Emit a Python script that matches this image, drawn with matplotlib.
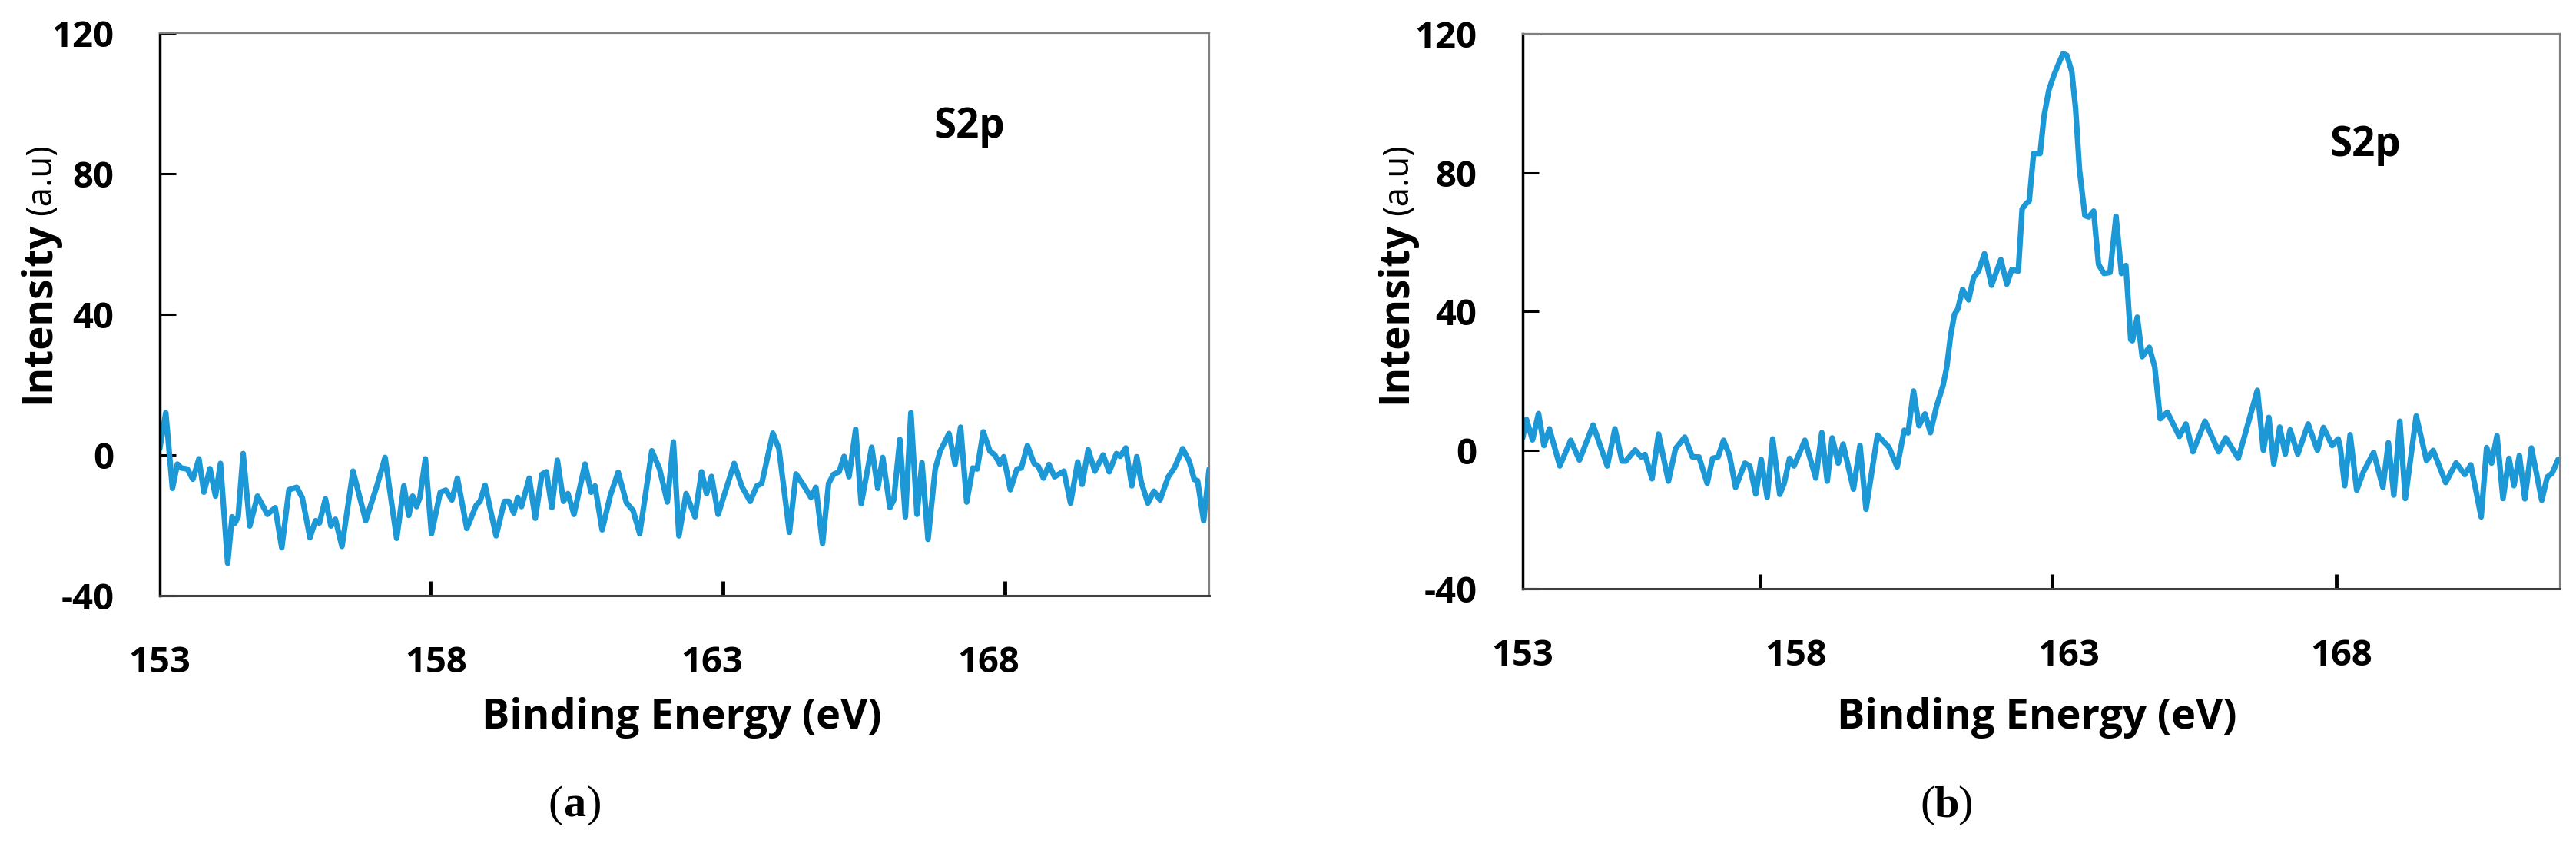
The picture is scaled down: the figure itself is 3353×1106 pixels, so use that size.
import matplotlib
matplotlib.use("Agg")
import matplotlib.pyplot as plt
from matplotlib.ticker import FixedLocator

plt.rcParams['axes.unicode_minus'] = False
plt.rcParams['font.family'] = ['Open Sans', 'DejaVu Sans']

# --- panel (a): S2p, no sulfur peak ---
energy_a = [153.00, 153.11, 153.23, 153.32, 153.39, 153.50, 153.60, 153.71, 153.80, 153.91,
            154.01, 154.10, 154.23, 154.31, 154.36, 154.42, 154.51, 154.63, 154.77, 154.95,
            155.09, 155.21, 155.34, 155.48, 155.58, 155.72, 155.82, 155.89, 156.00, 156.10,
            156.18, 156.30, 156.50, 156.73, 156.94, 157.08, 157.29, 157.42, 157.51, 157.58,
            157.65, 157.71, 157.81, 157.92, 158.08, 158.18, 158.29, 158.39, 158.56, 158.73,
            158.80, 158.89, 159.09, 159.24, 159.32, 159.41, 159.48, 159.55, 159.69, 159.80,
            159.92, 160.00, 160.10, 160.20, 160.31, 160.39, 160.50, 160.70, 160.81, 160.88,
            161.01, 161.16, 161.30, 161.45, 161.57, 161.69, 161.91, 162.05, 162.19, 162.30,
            162.40, 162.53, 162.69, 162.81, 162.90, 162.99, 163.11, 163.40, 163.54, 163.69,
            163.81, 163.90, 164.10, 164.21, 164.40, 164.52, 164.68, 164.79, 164.88, 165.00,
            165.11, 165.20, 165.30, 165.39, 165.48, 165.60, 165.70, 165.89, 166.00, 166.09,
            166.22, 166.29, 166.40, 166.50, 166.60, 166.71, 166.80, 166.91, 167.04, 167.13,
            167.29, 167.40, 167.50, 167.61, 167.72, 167.80, 167.91, 168.03, 168.12, 168.21,
            168.28, 168.40, 168.52, 168.60, 168.71, 168.83, 168.91, 169.00, 169.10, 169.20,
            169.37, 169.49, 169.62, 169.70, 169.81, 169.93, 170.08, 170.19, 170.32, 170.39,
            170.49, 170.60, 170.69, 170.77, 170.89, 171.00, 171.11, 171.26, 171.37, 171.52,
            171.64, 171.73, 171.79, 171.90, 172.00]
counts_a = [1.8, 12.0, -9.5, -2.6, -3.7, -4.0, -6.9, -1.1, -10.6, -3.9,
            -11.7, -2.4, -30.8, -17.6, -19.4, -17.6, 0.4, -20.2, -11.7, -16.9,
            -15.0, -26.4, -9.9, -9.2, -12.1, -23.5, -18.7, -19.4, -12.5, -20.2,
            -18.3, -26.0, -4.6, -18.7, -8.4, -0.7, -23.7, -8.8, -17.2, -11.7,
            -14.7, -12.1, -1.1, -22.4, -10.6, -10.0, -12.8, -6.6, -20.9, -14.3,
            -13.2, -8.6, -23.0, -13.2, -13.2, -16.5, -12.1, -14.7, -6.6, -18.0,
            -5.5, -4.8, -15.0, -1.5, -13.2, -11.0, -16.9, -2.6, -10.6, -8.8,
            -21.3, -11.4, -4.9, -13.6, -15.8, -22.4, 1.2, -4.0, -13.4, 3.7,
            -23.0, -11.0, -17.6, -4.8, -11.0, -6.1, -16.9, -2.4, -9.0, -13.2,
            -8.8, -8.1, 6.2, 1.8, -22.0, -5.4, -9.2, -12.1, -9.2, -25.2,
            -8.1, -5.5, -4.8, -0.4, -6.2, 7.3, -13.9, 2.2, -9.5, -0.7,
            -15.0, -12.8, 4.4, -17.6, 12.0, -16.9, -2.2, -24.0, -4.0, 1.1,
            6.1, -2.7, 7.9, -13.4, -3.7, -4.0, 6.6, 1.1, 0.0, -2.6,
            -0.5, -9.9, -4.0, -3.7, 2.7, -2.4, -3.3, -6.6, -2.7, -6.2,
            -4.6, -13.7, -2.0, -8.4, 1.5, -4.6, 0.0, -4.8, 0.4, -0.4,
            2.0, -8.8, -0.5, -7.7, -13.7, -10.3, -12.8, -6.2, -3.7, 1.8,
            -1.8, -7.0, -7.3, -18.7, -4.0]

# --- panel (b): S2p with peak near 163 eV ---
energy_b = [153.00, 153.07, 153.18, 153.29, 153.39, 153.49, 153.68, 153.88, 154.04, 154.29,
            154.55, 154.69, 154.82, 154.89, 155.06, 155.17, 155.24, 155.37, 155.49, 155.67,
            155.80, 155.97, 156.11, 156.23, 156.38, 156.48, 156.58, 156.68, 156.79, 156.90,
            157.07, 157.16, 157.27, 157.37, 157.48, 157.58, 157.71, 157.79, 157.89, 157.97,
            158.17, 158.37, 158.48, 158.58, 158.67, 158.78, 158.87, 159.06, 159.18, 159.29,
            159.50, 159.71, 159.86, 159.99, 160.06, 160.16, 160.26, 160.37, 160.47, 160.58,
            160.70, 160.77, 160.84, 160.91, 160.97, 161.06, 161.17, 161.26, 161.35, 161.46,
            161.59, 161.76, 161.87, 161.96, 162.08, 162.15, 162.22, 162.28, 162.36, 162.48,
            162.55, 162.64, 162.73, 162.83, 162.90, 162.97, 163.06, 163.13, 163.20, 163.30,
            163.37, 163.46, 163.55, 163.65, 163.76, 163.87, 163.97, 164.05, 164.14, 164.17,
            164.26, 164.35, 164.48, 164.58, 164.68, 164.81, 165.03, 165.15, 165.28, 165.50,
            165.75, 165.88, 166.11, 166.46, 166.57, 166.67, 166.76, 166.87, 166.97, 167.06,
            167.20, 167.39, 167.56, 167.67, 167.83, 167.94, 167.98, 168.06, 168.16, 168.28,
            168.40, 168.59, 168.76, 168.86, 168.96, 169.07, 169.17, 169.37, 169.56, 169.68,
            169.91, 170.10, 170.26, 170.37, 170.56, 170.66, 170.75, 170.85, 170.96, 171.07,
            171.16, 171.26, 171.36, 171.48, 171.67, 171.77, 171.86, 171.97]
counts_b = [3.5, 8.8, 2.9, 10.5, 1.3, 6.1, -4.6, 2.8, -2.9, 7.2,
            -4.6, 6.1, -3.2, -3.2, 0.0, -2.0, -1.3, -8.3, 4.6, -9.0,
            0.4, 3.7, -2.0, -2.0, -9.6, -2.4, -2.0, 2.8, -1.6, -10.8,
            -3.8, -4.6, -12.7, -2.7, -13.6, 3.2, -12.8, -9.7, -2.4, -4.6,
            2.8, -8.1, 5.0, -9.0, 3.5, -3.8, 1.7, -11.3, 1.3, -17.1,
            4.3, 0.8, -4.9, 5.7, 4.9, 17.0, 7.0, 10.4, 5.0, 12.5,
            18.5, 24.0, 33.0, 39.1, 40.6, 46.3, 43.3, 49.7, 51.6, 56.6,
            47.5, 54.9, 47.8, 52.0, 51.6, 69.5, 71.0, 71.8, 85.5, 85.5,
            96.2, 103.8, 108.0, 111.8, 114.3, 113.8, 109.1, 98.4, 80.9, 67.6,
            67.2, 68.9, 53.5, 50.9, 51.2, 67.4, 50.9, 53.2, 31.8, 31.5,
            38.3, 26.9, 29.6, 23.9, 9.0, 10.9, 3.9, 7.5, -0.5, 8.3,
            -0.5, 3.5, -2.4, 17.2, -0.1, 9.4, -4.0, 6.6, -1.2, 5.8,
            -1.2, 7.5, -0.1, 6.5, 1.3, 3.2, 0.6, -10.3, 4.4, -11.6,
            -6.4, -0.7, -10.8, 2.1, -13.0, 8.3, -14.0, 9.8, -3.1, -0.1,
            -9.4, -3.7, -7.1, -4.3, -19.3, 0.7, -3.8, 4.1, -14.0, -2.4,
            -10.3, -1.6, -14.1, 0.6, -14.5, -7.8, -6.7, -2.7]

x_labels = [153, 158, 163, 168]
y_ticks = [-40, 0, 40, 80, 120]
# the tick marks on the energy axis sit a little off the labels (Excel category axis)
marks_a = [157.9, 163.2, 168.3]
marks_b = [157.35, 162.7, 167.9]

LINE = '#1b98d5'

fig = plt.figure(figsize=(33.53, 11.06), dpi=100)
renderer = fig.canvas.get_renderer()


def draw_panel(rect, x, y, marks, ylab_x, xlab_x, s2p_xy, tag, tag_x):
    ax = fig.add_axes(rect)
    ax.plot(x, y, color=LINE, lw=5.2, solid_joinstyle='round', solid_capstyle='round')
    ax.set_xlim(153, 172)
    ax.set_ylim(-40, 120)

    ax.set_xticks(x_labels)
    ax.set_xticklabels([str(v) for v in x_labels])
    ax.xaxis.set_minor_locator(FixedLocator(marks))
    ax.set_yticks(y_ticks)
    ax.set_yticklabels([str(v) for v in y_ticks])

    ax.tick_params(axis='x', which='major', length=0, pad=46, labelsize=34)
    ax.tick_params(axis='x', which='minor', direction='in', length=14, width=3.5, color='black')
    ax.tick_params(axis='y', direction='in', length=15, width=2.2, pad=43, labelsize=34)
    for lbl in ax.get_xticklabels() + ax.get_yticklabels():
        lbl.set_fontweight('bold')

    ax.spines['left'].set_color('black')
    ax.spines['left'].set_linewidth(2.5)
    ax.spines['bottom'].set_color('#404040')
    ax.spines['bottom'].set_linewidth(2.2)
    for s in ('top', 'right'):
        ax.spines[s].set_color('#808080')
        ax.spines[s].set_linewidth(1.6)

    # axis titles
    fig.text(xlab_x, 0.1555, 'Binding Energy (eV)', ha='center', va='center',
             fontsize=39, fontweight='bold')
    t1 = fig.text(ylab_x, 0.5253, 'Intensity', rotation=90, ha='center', va='bottom',
                  fontsize=38, fontweight='bold')
    top = t1.get_window_extent(renderer).y1 / fig.bbox.height
    fig.text(ylab_x + 0.0012, top + 0.008, '(a.u)', rotation=90, ha='center', va='bottom',
             fontsize=33)

    fig.text(s2p_xy[0], s2p_xy[1], 'S2p', ha='center', va='center',
             fontsize=38, fontweight='bold')

    # panel tag "(a)" / "(b)", letter in bold
    serif = ['Liberation Serif', 'DejaVu Serif']
    half = 0.0044
    fig.text(tag_x - half, 0.0524, '(', ha='right', va='center', fontsize=42, family=serif)
    fig.text(tag_x, 0.0524, tag, ha='center', va='center', fontsize=42,
             fontweight='bold', family=serif)
    fig.text(tag_x + half, 0.0524, ')', ha='left', va='center', fontsize=42, family=serif)
    return ax


draw_panel([0.0620, 0.2993, 0.4074, 0.6618], energy_a, counts_a, marks_a,
           0.0149, 0.2645, (0.3764, 0.8508), 'a', 0.2231)
draw_panel([0.5911, 0.3074, 0.4026, 0.6528], energy_b, counts_b, marks_b,
           0.5416, 0.7906, (0.9183, 0.8291), 'b', 0.7557)

fig.savefig('out.png', dpi=100, facecolor='white')
